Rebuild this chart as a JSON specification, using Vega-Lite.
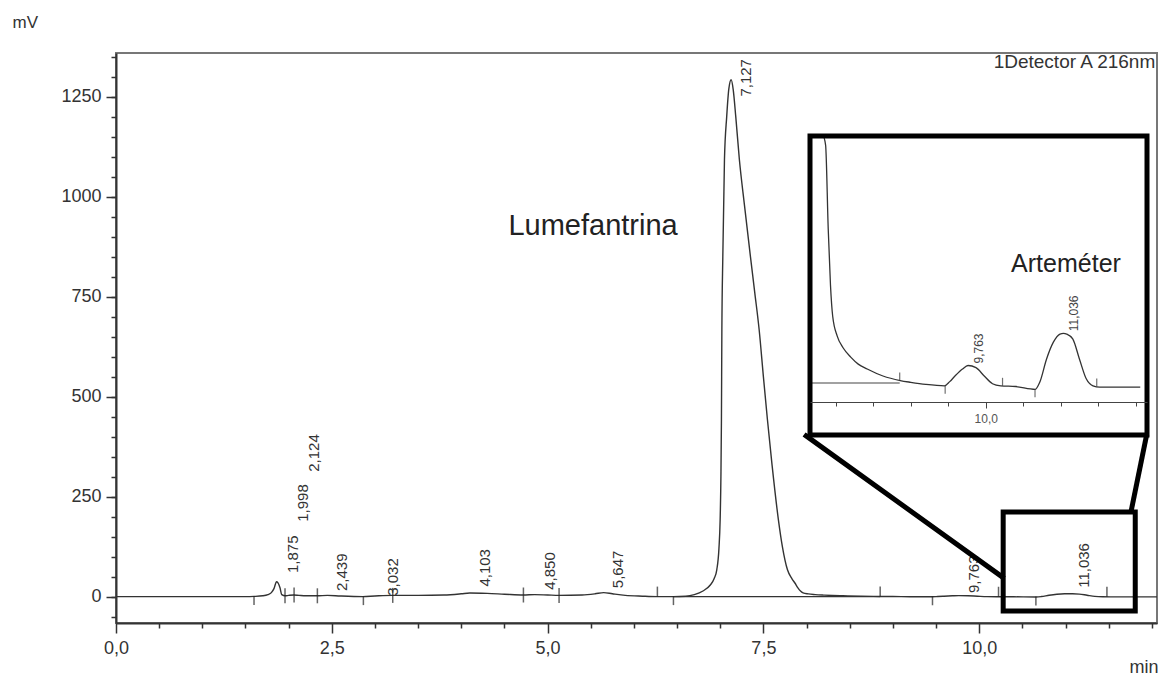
{
  "$schema": "https://vega.github.io/schema/vega-lite/v6.json",
  "width": 1041,
  "height": 570,
  "autosize": {"type": "none"},
  "padding": {"left": 116, "top": 53, "right": 8, "bottom": 52},
  "background": "white",
  "config": {"font": "Liberation Sans", "view": {"stroke": "#777", "strokeWidth": 2}},
  "datasets": {
    "chrom": [
      {"t": 0.0, "mV": 0}, {"t": 0.4, "mV": 0}, {"t": 0.8, "mV": 0}, {"t": 1.2, "mV": 0}, {"t": 1.5, "mV": 0},
      {"t": 1.6, "mV": 0.5}, {"t": 1.7, "mV": 2}, {"t": 1.76, "mV": 5}, {"t": 1.8, "mV": 10}, {"t": 1.83, "mV": 20},
      {"t": 1.86, "mV": 37}, {"t": 1.875, "mV": 35}, {"t": 1.9, "mV": 22}, {"t": 1.92, "mV": 5}, {"t": 1.96, "mV": 2},
      {"t": 2.0, "mV": 3}, {"t": 2.06, "mV": 4}, {"t": 2.12, "mV": 3}, {"t": 2.2, "mV": 2}, {"t": 2.33, "mV": 2},
      {"t": 2.45, "mV": 3}, {"t": 2.6, "mV": 1.5}, {"t": 2.86, "mV": 0}, {"t": 3.0, "mV": 1.5}, {"t": 3.2, "mV": 3},
      {"t": 3.5, "mV": 3}, {"t": 3.8, "mV": 4}, {"t": 4.0, "mV": 7}, {"t": 4.1, "mV": 9}, {"t": 4.3, "mV": 8},
      {"t": 4.5, "mV": 6}, {"t": 4.72, "mV": 4}, {"t": 4.85, "mV": 5}, {"t": 5.0, "mV": 4}, {"t": 5.13, "mV": 3},
      {"t": 5.4, "mV": 4}, {"t": 5.55, "mV": 7}, {"t": 5.65, "mV": 10}, {"t": 5.75, "mV": 7}, {"t": 5.9, "mV": 3},
      {"t": 6.1, "mV": 1}, {"t": 6.27, "mV": 0}, {"t": 6.46, "mV": 0}, {"t": 6.6, "mV": 1}, {"t": 6.7, "mV": 5},
      {"t": 6.8, "mV": 14}, {"t": 6.885, "mV": 29}, {"t": 6.93, "mV": 45}, {"t": 6.96, "mV": 67}, {"t": 6.985, "mV": 120},
      {"t": 6.999, "mV": 192}, {"t": 7.008, "mV": 300}, {"t": 7.014, "mV": 442}, {"t": 7.019, "mV": 667}, {"t": 7.03, "mV": 850},
      {"t": 7.049, "mV": 1092}, {"t": 7.075, "mV": 1200}, {"t": 7.1, "mV": 1270}, {"t": 7.127, "mV": 1292}, {"t": 7.15, "mV": 1268},
      {"t": 7.18, "mV": 1200}, {"t": 7.222, "mV": 1092}, {"t": 7.28, "mV": 980}, {"t": 7.35, "mV": 850}, {"t": 7.4, "mV": 760},
      {"t": 7.451, "mV": 667}, {"t": 7.5, "mV": 550}, {"t": 7.547, "mV": 442}, {"t": 7.6, "mV": 330}, {"t": 7.674, "mV": 192},
      {"t": 7.72, "mV": 125}, {"t": 7.779, "mV": 67}, {"t": 7.83, "mV": 45}, {"t": 7.865, "mV": 34}, {"t": 7.9, "mV": 22},
      {"t": 7.93, "mV": 14}, {"t": 7.96, "mV": 9.5}, {"t": 8.02, "mV": 6.7}, {"t": 8.1, "mV": 5}, {"t": 8.2, "mV": 3.7},
      {"t": 8.3, "mV": 2.7}, {"t": 8.42, "mV": 2}, {"t": 8.63, "mV": 1}, {"t": 8.86, "mV": 0.35}, {"t": 9.0, "mV": 0.1},
      {"t": 9.2, "mV": -0.2}, {"t": 9.45, "mV": -0.4}, {"t": 9.52, "mV": 0.2}, {"t": 9.59, "mV": 1.0}, {"t": 9.69, "mV": 2.0},
      {"t": 9.764, "mV": 2.5}, {"t": 9.87, "mV": 2.2}, {"t": 9.98, "mV": 1.0}, {"t": 10.09, "mV": -0.1}, {"t": 10.2, "mV": -0.4},
      {"t": 10.4, "mV": -0.5}, {"t": 10.66, "mV": -0.9}, {"t": 10.72, "mV": 0.1}, {"t": 10.81, "mV": 3.4}, {"t": 10.9, "mV": 5.8},
      {"t": 10.99, "mV": 7.0}, {"t": 11.036, "mV": 7.1}, {"t": 11.08, "mV": 7.0}, {"t": 11.16, "mV": 6.3}, {"t": 11.25, "mV": 3.4},
      {"t": 11.34, "mV": 0.6}, {"t": 11.43, "mV": -0.4}, {"t": 11.52, "mV": -0.6}, {"t": 11.8, "mV": -0.6}, {"t": 12.06, "mV": -0.6}
    ],
    "peaks": [
      {"t": 1.875, "height": 37, "label": "1,875", "label_mV": 59},
      {"t": 1.998, "height": 3, "label": "1,998", "label_mV": 187},
      {"t": 2.124, "height": 3, "label": "2,124", "label_mV": 312},
      {"t": 2.439, "height": 3, "label": "2,439", "label_mV": 14},
      {"t": 3.032, "height": 2, "label": "3,032", "label_mV": 2},
      {"t": 4.103, "height": 9, "label": "4,103", "label_mV": 25},
      {"t": 4.85, "height": 5, "label": "4,850", "label_mV": 17},
      {"t": 5.647, "height": 10, "label": "5,647", "label_mV": 21},
      {"t": 7.127, "height": 1292, "label": "7,127", "label_mV": 1250},
      {"t": 9.763, "height": 2.5, "label": "9,763", "label_mV": 9},
      {"t": 11.036, "height": 7.1, "label": "11,036", "label_mV": 22}
    ],
    "markers": [
      {"t": 1.599, "mV": 0.5, "kind": "start"},
      {"t": 1.958, "mV": 2, "kind": "both"},
      {"t": 2.063, "mV": 4, "kind": "both"},
      {"t": 2.333, "mV": 2, "kind": "both"},
      {"t": 2.866, "mV": 0, "kind": "start"},
      {"t": 3.206, "mV": 3, "kind": "both"},
      {"t": 4.72, "mV": 4, "kind": "both"},
      {"t": 5.133, "mV": 3, "kind": "both"},
      {"t": 6.272, "mV": 0, "kind": "end"},
      {"t": 6.458, "mV": 0, "kind": "start"},
      {"t": 8.853, "mV": 0.35, "kind": "end"},
      {"t": 9.459, "mV": -0.4, "kind": "start"},
      {"t": 10.224, "mV": -0.4, "kind": "end"},
      {"t": 10.657, "mV": -0.9, "kind": "start"},
      {"t": 11.48, "mV": -0.5, "kind": "end"}
    ],
    "baselines": [
      {"t0": 6.458, "t1": 8.853, "mV": 0}
    ],
    "zoom": [
      {"t0": 10.278, "t1": 11.808, "mV0": -35.75, "mV1": 211.75}
    ],
    "connectors": [
      {"ta": 7.995, "ma": 401.75, "tb": 10.267, "mb": 49.25},
      {"ta": 11.935, "ma": 399.25, "tb": 11.761, "mb": 214.25}
    ]
  },
  "layer": [
    {
      "layer": [
        {
          "data": {"name": "baselines"},
          "mark": {"type": "rule", "opacity": 0},
          "encoding": {
            "x": {"field": "t0", "type": "quantitative", "scale": {"domain": [0, 12.06], "nice": false, "zero": false}, "axis": null},
            "y": {"field": "mV", "type": "quantitative",
              "scale": {"domain": [-66, 1359], "nice": false, "zero": false},
              "axis": {
                "orient": "left",
                "values": [-50,0,50,100,150,200,250,300,350,400,450,500,550,600,650,700,750,800,850,900,950,1000,1050,1100,1150,1200,1250,1300,1350],
                "labels": false, "domain": false, "grid": false,
                "tickSize": 5, "tickColor": "#333", "tickWidth": 1.5,
                "title": null
              }
            }
          }
        }
      ]
    },
    {
      "layer": [
        {
          "data": {"name": "chrom"},
          "mark": {"type": "line", "color": "#333", "strokeWidth": 1.4, "interpolate": "monotone"},
          "encoding": {
            "x": {"field": "t", "type": "quantitative",
              "scale": {"domain": [0, 12.06], "nice": false, "zero": false},
              "axis": {
                "orient": "bottom",
                "values": [0,0.5,1,1.5,2,2.5,3,3.5,4,4.5,5,5.5,6,6.5,7,7.5,8,8.5,9,9.5,10,10.5,11,11.5,12],
                "labelExpr": "datum.value % 2.5 === 0 ? replace(format(datum.value, '.1f'), '.', ',') : ''",
                "tickSize": {"condition": {"test": "datum.value % 2.5 === 0", "value": 10}, "value": 5},
                "tickColor": "#333", "tickWidth": 1.5,
                "domainColor": "#333", "domainWidth": 2,
                "labelFontSize": 18, "labelColor": "#333", "labelPadding": 6,
                "labelFlush": false, "labelOverlap": false, "labelBound": false,
                "grid": false,
                "title": "min", "titleFontSize": 18, "titleFontWeight": "normal", "titleColor": "#333",
                "titleAlign": "right", "titleBaseline": "alphabetic",
                "titleX": 1042, "titleY": 49
              }
            },
            "y": {"field": "mV", "type": "quantitative",
              "scale": {"domain": [-66, 1359], "nice": false, "zero": false},
              "axis": {
                "orient": "left",
                "values": [0, 250, 500, 750, 1000, 1250],
                "format": "d",
                "tickSize": 10,
                "tickColor": "#333", "tickWidth": 1.5,
                "domainColor": "#333", "domainWidth": 2,
                "labelFontSize": 18, "labelColor": "#333", "labelPadding": 5,
                "labelOverlap": false, "labelFlush": false, "labelBound": false,
                "grid": false,
                "title": "mV", "titleFontSize": 17, "titleFontWeight": "normal", "titleColor": "#333",
                "titleAngle": 0, "titleAlign": "left", "titleBaseline": "alphabetic",
                "titleX": -104, "titleY": -26
              }
            }
          }
        },
        {
          "data": {"name": "baselines"},
          "mark": {"type": "rule", "color": "#333", "strokeWidth": 1.2},
          "encoding": {
            "x": {"field": "t0", "type": "quantitative", "scale": {"domain": [0, 12.06], "nice": false, "zero": false}},
            "x2": {"field": "t1"},
            "y": {"field": "mV", "type": "quantitative", "scale": {"domain": [-66, 1359], "nice": false, "zero": false}}
          }
        },
        {
          "data": {"name": "markers"},
          "transform": [{"filter": "datum.kind === 'both'"}],
          "mark": {"type": "tick", "orient": "vertical", "color": "#222", "size": 15, "thickness": 1.5},
          "encoding": {
            "x": {"field": "t", "type": "quantitative", "scale": {"domain": [0, 12.06], "nice": false, "zero": false}},
            "y": {"field": "mV", "type": "quantitative", "scale": {"domain": [-66, 1359], "nice": false, "zero": false}}
          }
        },
        {
          "data": {"name": "markers"},
          "transform": [{"filter": "datum.kind === 'start'"}],
          "mark": {"type": "tick", "orient": "vertical", "color": "#222", "size": 9, "thickness": 1.5, "yOffset": 4},
          "encoding": {
            "x": {"field": "t", "type": "quantitative", "scale": {"domain": [0, 12.06], "nice": false, "zero": false}},
            "y": {"field": "mV", "type": "quantitative", "scale": {"domain": [-66, 1359], "nice": false, "zero": false}}
          }
        },
        {
          "data": {"name": "markers"},
          "transform": [{"filter": "datum.kind === 'end'"}],
          "mark": {"type": "tick", "orient": "vertical", "color": "#222", "size": 10, "thickness": 1.5, "yOffset": -5},
          "encoding": {
            "x": {"field": "t", "type": "quantitative", "scale": {"domain": [0, 12.06], "nice": false, "zero": false}},
            "y": {"field": "mV", "type": "quantitative", "scale": {"domain": [-66, 1359], "nice": false, "zero": false}}
          }
        },
        {
          "data": {"name": "peaks"},
          "mark": {"type": "text", "angle": -90, "align": "left", "baseline": "middle", "dy": 15, "fontSize": 15, "color": "#333"},
          "encoding": {
            "x": {"field": "t", "type": "quantitative", "scale": {"domain": [0, 12.06], "nice": false, "zero": false}},
            "y": {"field": "label_mV", "type": "quantitative", "scale": {"domain": [-66, 1359], "nice": false, "zero": false}},
            "text": {"field": "label"}
          }
        },
        {
          "data": {"values": [{}]},
          "mark": {"type": "text", "align": "center", "baseline": "middle", "fontSize": 29, "color": "#222"},
          "encoding": {
            "x": {"datum": 5.527, "type": "quantitative", "scale": {"domain": [0, 12.06], "nice": false, "zero": false}},
            "y": {"datum": 927, "type": "quantitative", "scale": {"domain": [-66, 1359], "nice": false, "zero": false}},
            "text": {"value": "Lumefantrina"}
          }
        },
        {
          "data": {"values": [{}]},
          "mark": {"type": "text", "align": "right", "baseline": "alphabetic", "fontSize": 19, "color": "#333"},
          "encoding": {
            "x": {"datum": 12.04, "type": "quantitative", "scale": {"domain": [0, 12.06], "nice": false, "zero": false}},
            "y": {"datum": 1322, "type": "quantitative", "scale": {"domain": [-66, 1359], "nice": false, "zero": false}},
            "text": {"value": "1Detector A 216nm"}
          }
        },
        {
          "data": {"name": "connectors"},
          "mark": {"type": "rule", "color": "black", "strokeWidth": 5, "strokeCap": "square"},
          "encoding": {
            "x": {"field": "ta", "type": "quantitative", "scale": {"domain": [0, 12.06], "nice": false, "zero": false}},
            "x2": {"field": "tb"},
            "y": {"field": "ma", "type": "quantitative", "scale": {"domain": [-66, 1359], "nice": false, "zero": false}},
            "y2": {"field": "mb"}
          }
        },
        {
          "data": {"name": "zoom"},
          "mark": {"type": "rect", "fillOpacity": 0, "stroke": "black", "strokeWidth": 5},
          "encoding": {
            "x": {"field": "t0", "type": "quantitative", "scale": {"domain": [0, 12.06], "nice": false, "zero": false}},
            "x2": {"field": "t1"},
            "y": {"field": "mV0", "type": "quantitative", "scale": {"domain": [-66, 1359], "nice": false, "zero": false}},
            "y2": {"field": "mV1"}
          }
        }
      ]
    },
    {
      "layer": [
        {
          "data": {"values": [{}]},
          "mark": {"type": "rect", "fill": "white", "strokeWidth": 0},
          "encoding": {
            "x": {"datum": 7.657, "type": "quantitative",
              "scale": {"domain": [7.657, 12.15], "range": [694, 1031], "nice": false, "zero": false, "clamp": true},
              "axis": {
                "orient": "bottom", "offset": -221, "zindex": 3,
                "values": [8,8.5,9,9.5,10,10.5,11,11.5,12],
                "labelExpr": "datum.value % 2.5 === 0 ? replace(format(datum.value, '.1f'), '.', ',') : ''",
                "tickSize": {"condition": {"test": "datum.value % 2.5 === 0", "value": 6}, "value": 4},
                "tickColor": "#444", "tickWidth": 1,
                "domainColor": "#444", "domainWidth": 1.2,
                "labelFontSize": 12, "labelColor": "#555", "labelPadding": 5,
                "labelFlush": false, "labelOverlap": false, "labelBound": false,
                "grid": false, "title": null
              }
            },
            "x2": {"datum": 12.15},
            "y": {"datum": -7.43, "type": "quantitative",
              "scale": {"domain": [-7.43, 35.3], "range": [382, 83], "nice": false, "zero": false, "clamp": true},
              "axis": null},
            "y2": {"datum": 35.3}
          }
        },
        {
          "data": {"name": "baselines"},
          "mark": {"type": "rule", "color": "#444", "strokeWidth": 1.2},
          "encoding": {
            "x": {"field": "t0", "type": "quantitative", "scale": {"domain": [7.657, 12.15], "range": [694, 1031], "nice": false, "zero": false, "clamp": true}},
            "x2": {"field": "t1"},
            "y": {"field": "mV", "type": "quantitative", "scale": {"domain": [-7.43, 35.3], "range": [382, 83], "nice": false, "zero": false, "clamp": true}, "axis": null}
          }
        },
        {
          "data": {"name": "chrom"},
          "transform": [{"filter": "datum.t >= 7.6"}],
          "mark": {"type": "line", "color": "#333", "strokeWidth": 1.3, "interpolate": "monotone"},
          "encoding": {
            "x": {"field": "t", "type": "quantitative", "scale": {"domain": [7.657, 12.15], "range": [694, 1031], "nice": false, "zero": false, "clamp": true}},
            "y": {"field": "mV", "type": "quantitative", "scale": {"domain": [-7.43, 35.3], "range": [382, 83], "nice": false, "zero": false, "clamp": true}, "axis": null}
          }
        },
        {
          "data": {"name": "markers"},
          "transform": [{"filter": "datum.t >= 8 && datum.kind === 'end'"}],
          "mark": {"type": "tick", "orient": "vertical", "color": "#333", "size": 8, "thickness": 1.2, "yOffset": -4},
          "encoding": {
            "x": {"field": "t", "type": "quantitative", "scale": {"domain": [7.657, 12.15], "range": [694, 1031], "nice": false, "zero": false, "clamp": true}},
            "y": {"field": "mV", "type": "quantitative", "scale": {"domain": [-7.43, 35.3], "range": [382, 83], "nice": false, "zero": false, "clamp": true}, "axis": null}
          }
        },
        {
          "data": {"name": "markers"},
          "transform": [{"filter": "datum.t >= 8 && datum.kind === 'start'"}],
          "mark": {"type": "tick", "orient": "vertical", "color": "#333", "size": 8, "thickness": 1.2, "yOffset": 4},
          "encoding": {
            "x": {"field": "t", "type": "quantitative", "scale": {"domain": [7.657, 12.15], "range": [694, 1031], "nice": false, "zero": false, "clamp": true}},
            "y": {"field": "mV", "type": "quantitative", "scale": {"domain": [-7.43, 35.3], "range": [382, 83], "nice": false, "zero": false, "clamp": true}, "axis": null}
          }
        },
        {
          "data": {"name": "peaks"},
          "transform": [{"filter": "datum.t >= 9.5"}],
          "mark": {"type": "text", "angle": -90, "align": "left", "baseline": "middle", "dx": 2, "dy": 11, "fontSize": 12, "color": "#444"},
          "encoding": {
            "x": {"field": "t", "type": "quantitative", "scale": {"domain": [7.657, 12.15], "range": [694, 1031], "nice": false, "zero": false, "clamp": true}},
            "y": {"field": "height", "type": "quantitative", "scale": {"domain": [-7.43, 35.3], "range": [382, 83], "nice": false, "zero": false, "clamp": true}, "axis": null},
            "text": {"field": "label"}
          }
        },
        {
          "data": {"values": [{}]},
          "mark": {"type": "text", "align": "center", "baseline": "middle", "fontSize": 25, "color": "#222"},
          "encoding": {
            "x": {"datum": 11.07, "type": "quantitative", "scale": {"domain": [7.657, 12.15], "range": [694, 1031], "nice": false, "zero": false, "clamp": true}},
            "y": {"datum": 17, "type": "quantitative", "scale": {"domain": [-7.43, 35.3], "range": [382, 83], "nice": false, "zero": false, "clamp": true}, "axis": null},
            "text": {"value": "Arteméter"}
          }
        },
        {
          "data": {"values": [{}]},
          "mark": {"type": "rect", "fillOpacity": 0, "stroke": "black", "strokeWidth": 5},
          "encoding": {
            "x": {"datum": 7.657, "type": "quantitative", "scale": {"domain": [7.657, 12.15], "range": [694, 1031], "nice": false, "zero": false, "clamp": true}},
            "x2": {"datum": 12.15},
            "y": {"datum": -7.43, "type": "quantitative", "scale": {"domain": [-7.43, 35.3], "range": [382, 83], "nice": false, "zero": false, "clamp": true}, "axis": null},
            "y2": {"datum": 35.3}
          }
        }
      ]
    }
  ],
  "resolve": {"scale": {"x": "independent", "y": "independent"}}
}
